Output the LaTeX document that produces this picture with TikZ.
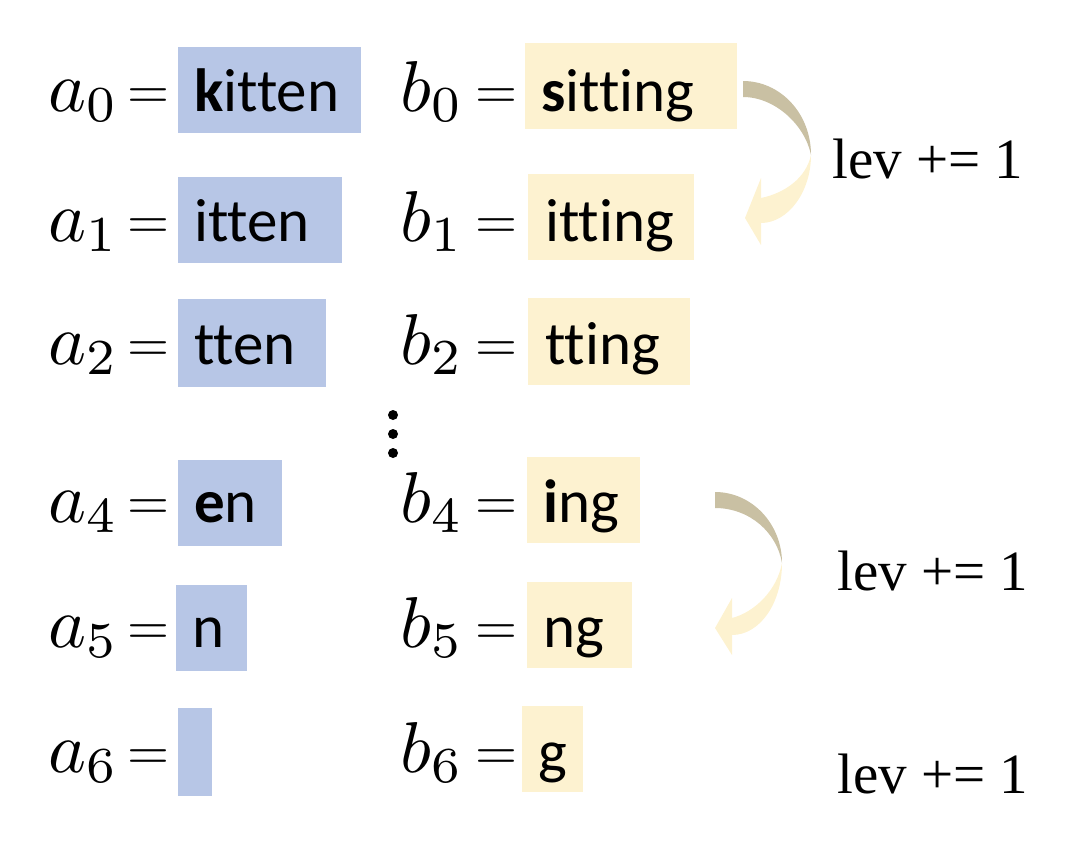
\documentclass[tikz,border=0pt]{standalone}
\usepackage{fontspec}
\setmainfont{Carlito}[Ligatures={NoCommon}]
\newfontfamily\levfont{Liberation Serif}
\definecolor{boxblue}{RGB}{183,198,230}
\definecolor{boxcream}{RGB}{253,242,208}
\definecolor{arrowolive}{RGB}{201,192,163}
\newcommand{\mathbig}[1]{\scalebox{7.2}{$#1$}}
\newcommand{\eqbig}{\scalebox{5.4}{$=$}}
\begin{document}
\begin{tikzpicture}[x=1pt,y=-1pt,
  word/.style={anchor=base west, inner sep=0pt, font=\fontsize{61}{72}\selectfont},
  mlab/.style={anchor=base west, inner sep=0pt},
  eqsign/.style={anchor=base west, inner sep=0pt},
  levlab/.style={anchor=base west, inner sep=0pt, font=\levfont\fontsize{57}{66}\selectfont},
  ablock/.style={fill=boxblue},
  bblock/.style={fill=boxcream}]
\useasboundingbox (0,0) rectangle (1070,854);

% boxes
\fill[ablock] (178,47) rectangle (361,133);
\fill[bblock] (525,43) rectangle (737,129);
\fill[ablock] (178,177) rectangle (342,263);
\fill[bblock] (528,174) rectangle (694,260);
\fill[ablock] (178,299) rectangle (326,387);
\fill[bblock] (528,298) rectangle (690,385);
\fill[ablock] (178,460) rectangle (282,546);
\fill[bblock] (527,457) rectangle (640,543);
\fill[ablock] (176,585) rectangle (247,671);
\fill[bblock] (527,582) rectangle (632,668);
\fill[ablock] (178,708) rectangle (212,796);
\fill[bblock] (522,706) rectangle (583,792);

% labels a_i, b_i
\foreach \i/\yb in {0/111,1/241,2/364,4/522,5/647,6/772}{
  \node[mlab] (la\i) at (48,\yb) {\mathbig{a_{\i}}};
  \node[eqsign] (ea\i) at (127,\yb-3) {\eqbig};
  \node[mlab] (lb\i) at (400,\yb) {\mathbig{b_{\i}}};
  \node[eqsign] (eb\i) at (475,\yb-3) {\eqbig};
}

% words
\node[word] (wa0) at (194,111) {\textbf{k}itten};
\node[word] (wb0) at (541,111) {\textbf{s}itting};
\node[word] (wa1) at (194,241) {itten};
\node[word] (wb1) at (545,241) {itting};
\node[word] (wa2) at (194,364) {tten};
\node[word] (wb2) at (545,364) {tting};
\node[word] (wa4) at (194,522) {\textbf{e}n};
\node[word] (wb4) at (543,522) {\textbf{i}ng};
\node[word] (wa5) at (192,647) {n};
\node[word] (wb5) at (543,647) {ng};
\node[word] (wb6) at (538,772) {g};

% vertical dots
\fill (393,415) circle (5pt);
\fill (393,434) circle (5pt);
\fill (393,453) circle (5pt);

% curved arrow 1
\fill[arrowolive] (743,81) .. controls (780,81) and (811,113) .. (811,155)
  .. controls (805,125) and (775,97) .. (743,97) -- cycle;
\fill[boxcream] (811,155) .. controls (811,192) and (788,223) .. (761,223)
  -- (761,245) -- (745,218) -- (761,178) -- (761,198)
  .. controls (785,193) and (806,178) .. (811,155) -- cycle;

% curved arrow 2
\fill[arrowolive] (715,492) .. controls (752,492) and (782,524) .. (782,563)
  .. controls (777,533) and (750,508) .. (715,508) -- cycle;
\fill[boxcream] (782,563) .. controls (782,603) and (760,635) .. (732,635)
  -- (732,655) -- (715,628) -- (732,598) -- (732,618)
  .. controls (755,612) and (777,590) .. (782,563) -- cycle;

% lev labels
\node[levlab] (lev1) at (832,178) {lev += 1};
\node[levlab] (lev2) at (837,590) {lev += 1};
\node[levlab] (lev3) at (837,793) {lev += 1};
\end{tikzpicture}
\end{document}
